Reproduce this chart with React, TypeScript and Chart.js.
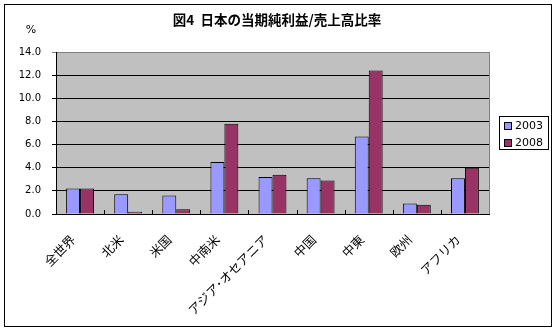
import React, { useEffect, useRef } from 'react';
import { Chart, registerables } from 'chart.js';

Chart.register(...registerables);

const categories = ['全世界', '北米', '米国', '中南米', 'アジア･オセアニア', '中国', '中東', '欧州', 'アフリカ'];
const values2003 = [2.2, 1.7, 1.6, 4.5, 3.2, 3.1, 6.7, 0.9, 3.1];
const values2008 = [2.2, 0.2, 0.4, 7.8, 3.4, 2.9, 12.4, 0.8, 4.0];
const seriesNames = ['2003', '2008'];
const seriesColors = ['#9999FF', '#993366'];
const titleText = '図4  日本の当期純利益/売上高比率';
const unitText = '%';

const W = 559;
const H = 333;

const decor = {
  id: 'decor',
  beforeDraw(chart: any) {
    const { ctx, chartArea: a } = chart;
    ctx.save();
    ctx.fillStyle = '#ffffff';
    ctx.fillRect(0, 0, W, H);
    ctx.fillStyle = '#C0C0C0';
    ctx.fillRect(a.left, a.top, a.right - a.left, a.bottom - a.top);
    ctx.restore();
  },
  afterDraw(chart: any) {
    const { ctx, chartArea: a } = chart;
    ctx.save();
    ctx.strokeStyle = '#808080';
    ctx.lineWidth = 1;
    ctx.beginPath();
    ctx.moveTo(Math.round(a.right) + 0.5, a.top);
    ctx.lineTo(Math.round(a.right) + 0.5, a.bottom);
    ctx.stroke();
    const n = categories.length;
    const step = (a.right - a.left) / n;
    ctx.strokeStyle = '#000';
    ctx.beginPath();
    for (let i = 1; i < n; i++) {
      const x = Math.round(a.left + i * step) + 0.5;
      ctx.moveTo(x, a.bottom);
      ctx.lineTo(x, a.bottom - 4);
    }
    ctx.stroke();
    ctx.strokeStyle = '#000';
    ctx.strokeRect(4.5, 4.5, 547, 322);
    ctx.fillStyle = '#000';
    ctx.font = 'bold 13.5px "Noto Sans CJK JP"';
    ctx.textAlign = 'center';
    ctx.textBaseline = 'middle';
    ctx.fillText(titleText, 277, 20);
    ctx.font = '11px "DejaVu Sans"';
    ctx.fillText(unitText, 31, 30);
    ctx.strokeStyle = '#000';
    ctx.strokeRect(499.5, 116.5, 49, 33);
    const ly = [126, 143];
    ctx.textAlign = 'left';
    ctx.font = '11px "DejaVu Sans"';
    for (let i = 0; i < 2; i++) {
      ctx.fillStyle = seriesColors[i];
      ctx.fillRect(504, ly[i] - 4, 8, 8);
      ctx.strokeStyle = '#000';
      ctx.strokeRect(504.5, ly[i] - 3.5, 7, 7);
      ctx.fillStyle = '#000';
      ctx.fillText(seriesNames[i], 515, ly[i] + 0.5);
    }
    ctx.restore();
  },
};

export default function App() {
  const ref = useRef<HTMLCanvasElement>(null);
  useEffect(() => {
    if (!ref.current) return;
    const chart = new Chart(ref.current, {
      type: 'bar',
      data: {
        labels: categories,
        datasets: [
          {
            label: seriesNames[0],
            data: values2003,
            backgroundColor: seriesColors[0],
            borderColor: '#000',
            borderWidth: 1,
            categoryPercentage: 0.58,
            barPercentage: 1.0,
          },
          {
            label: seriesNames[1],
            data: values2008,
            backgroundColor: seriesColors[1],
            borderColor: '#000',
            borderWidth: 1,
            categoryPercentage: 0.58,
            barPercentage: 1.0,
          },
        ],
      },
      options: {
        responsive: false,
        animation: false,
        layout: { padding: { left: 10, top: 52, right: 70, bottom: 19 } },
        plugins: { legend: { display: false }, title: { display: false }, tooltip: { enabled: false } },
        scales: {
          x: {
            grid: { display: false },
            border: { display: true, color: '#000', width: 1 },
            ticks: {
              color: '#000',
              font: { family: '"Noto Sans CJK JP"', size: 12.5 },
              maxRotation: 45,
              minRotation: 45,
              padding: 10,
              labelOffset: -7,
              autoSkip: false,
            },
            afterFit: (s: any) => {
              s.height = 100;
            },
          },
          y: {
            min: 0,
            max: 14,
            grid: {
              color: (c: any) => (c.tick && c.tick.value === 14 ? '#808080' : '#000'),
              tickLength: 4,
              lineWidth: 1,
            },
            border: { display: true, color: '#000', width: 1 },
            ticks: {
              stepSize: 2,
              color: '#000',
              font: { family: '"DejaVu Sans"', size: 10 },
              padding: 11,
              callback: (v: any) => Number(v).toFixed(1),
            },
            afterFit: (s: any) => {
              s.width = 46;
            },
          },
        },
      },
      plugins: [decor],
    });
    return () => chart.destroy();
  }, []);
  return (
    <div style={{ position: 'absolute', left: 0, top: 0, width: W, height: H }}>
      <canvas ref={ref} width={W} height={H} />
    </div>
  );
}
